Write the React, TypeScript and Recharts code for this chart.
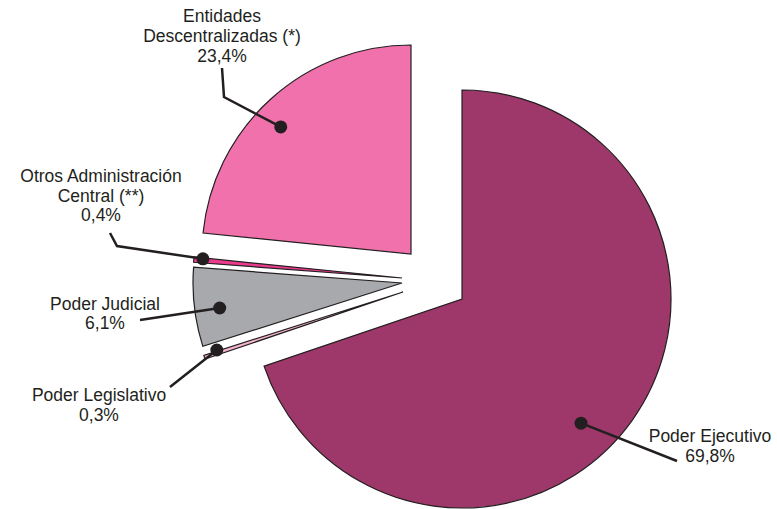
import { PieChart, Pie, Cell } from "recharts";

const sliceNames = [
  "Poder Ejecutivo",
  "Poder Legislativo",
  "Poder Judicial",
  "Otros Administración Central (**)",
  "Entidades Descentralizadas (*)",
];
const labelLines = [
  ["Poder Ejecutivo"],
  ["Poder Legislativo"],
  ["Poder Judicial"],
  ["Otros Administración", "Central (**)"],
  ["Entidades", "Descentralizadas (*)"],
];
const shares = [69.8, 0.3, 6.1, 0.4, 23.4];

const colors = ["#9E376A", "#F5B5CE", "#A7A9AC", "#EA3A8E", "#F071AC"];
const INK = "#231F20";
const RADIUS = 209;
const FONT_SIZE = 17.5;
const LINE_GAP = 19.6;

// each slice is pulled out by hand, so each one gets its own centre
const sliceCenters = [
  [462, 299],
  [403, 292],
  [402, 283],
  [402, 278],
  [411, 254],
];
// leader dot, polar (radius, degrees) from the slice centre
const dotPolar = [
  [172, -46.2],
  [195, 197.3],
  [184, 187.8],
  [200, 174.5],
  [182, 135.7],
];
// leader points after the dot, then text centre + first baseline
const leaderPoints = [
  [[677, 461]],
  [[170, 387]],
  [[140, 320]],
  [[117, 246], [110, 233]],
  [[224, 97], [222, 68]],
];
const textAnchors = [
  [710, 442.2],
  [99, 401.2],
  [105, 309.7],
  [101, 181.9],
  [222, 22.4],
];

const data = sliceNames.map((name, i) => ({ name, value: shares[i] }));

const fmt = (v: number) => v.toFixed(1).replace(".", ",") + "%";

function makeLabel(target: number) {
  return (props: any) => {
    if (props.index !== target) return null;
    const { cx, cy } = props;
    const [r, deg] = dotPolar[target];
    const rad = (deg * Math.PI) / 180;
    const dx = cx + r * Math.cos(rad);
    const dy = cy - r * Math.sin(rad);
    const pts = [[dx, dy], ...leaderPoints[target]];
    const [tx, ty] = textAnchors[target];
    const lines = [...labelLines[target], fmt(shares[target])];
    return (
      <g>
        <polyline
          points={pts.map((p) => p.join(",")).join(" ")}
          fill="none"
          stroke={INK}
          strokeWidth={2.5}
        />
        <circle cx={dx} cy={dy} r={6.5} fill={INK} />
        {lines.map((l, k) => (
          <text
            key={k}
            x={tx}
            y={ty + k * LINE_GAP}
            textAnchor="middle"
            fill={INK}
            fontSize={FONT_SIZE}
            fontFamily="'Liberation Sans', Arial, sans-serif"
          >
            {l}
          </text>
        ))}
      </g>
    );
  };
}

export default function App() {
  return (
    <div style={{ width: 777, height: 509, background: "#fff" }}>
      <style>{`body{margin:0}`}</style>
      <PieChart width={777} height={509} margin={{ top: 0, right: 0, bottom: 0, left: 0 }}>
        {sliceCenters.map(([x, y], i) => (
          <Pie
            key={i}
            data={data}
            dataKey="value"
            nameKey="name"
            cx={x}
            cy={y}
            outerRadius={RADIUS}
            startAngle={90}
            endAngle={-270}
            isAnimationActive={false}
            labelLine={false}
            label={makeLabel(i)}
          >
            {data.map((_, j) => (
              <Cell
                key={j}
                fill={j === i ? colors[j] : "none"}
                stroke={j === i ? INK : "none"}
                strokeWidth={1.2}
              />
            ))}
          </Pie>
        ))}
      </PieChart>
    </div>
  );
}
